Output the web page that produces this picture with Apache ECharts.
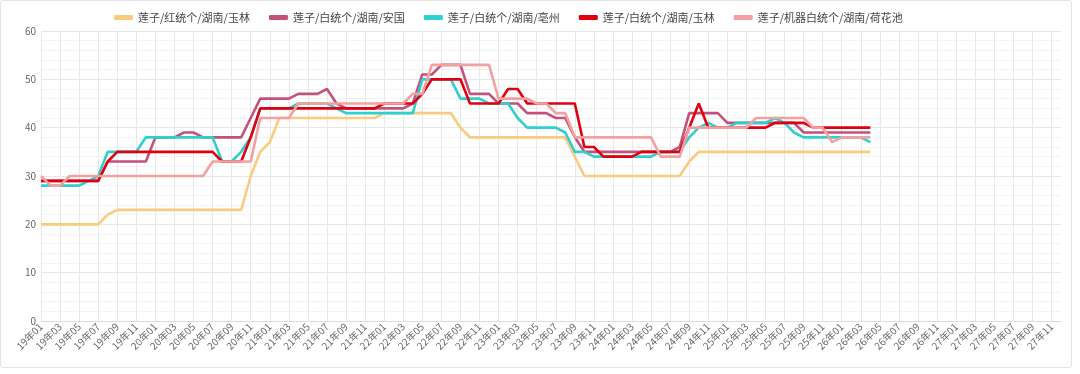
<!DOCTYPE html>
<html>
<head>
<meta charset="utf-8">
<script src="https://cdn.jsdelivr.net/npm/echarts@6/dist/echarts.min.js"></script>
<style>
html,body{margin:0;padding:0;background:#fff;}
#frame{position:absolute;left:0;top:0;width:1072px;height:368px;border:1px solid #e3e3e3;border-radius:3px;box-sizing:border-box;}
#chart{position:absolute;left:0;top:0;width:1080px;height:374px;}
</style>
</head>
<body>
<div id="frame"></div>
<div id="chart"></div>
<script>
// Tick labels: months 19年01 .. 27年12
const years = ['19','20','21','22','23','24','25','26','27'];
const months = ['01','02','03','04','05','06','07','08','09','10','11','12'];
const categories = [];
years.forEach(y => months.forEach(m => categories.push(y + '年' + m)));

const seriesNames = ['莲子/红统个/湖南/玉林','莲子/白统个/湖南/安国','莲子/白统个/湖南/亳州','莲子/白统个/湖南/玉林','莲子/机器白统个/湖南/荷花池'];

// 莲子/红统个/湖南/玉林
const hongYulin = [20,20,20,20,20,20,20,22,23,23,23,23,23,23,23,23,23,23,23,23,23,23,30,35,37,
  42,42,42,42,42,42,42,42,42,42,42,43,43,43,43,43,43,43,43,40,
  38,38,38,38,38,38,38,38,38,38,38,34,30,30,30,30,30,30,30,30,30,30,30,33,
  35,35,35,35,35,35,35,35,35,35,35,35,35,35,35,35,35,35,35];
// 莲子/白统个/湖南/安国
const baiAnguo = [29,29,29,29,29,29,29,33,33,33,33,33,38,38,38,39,39,38,38,38,38,38,42,
  46,46,46,46,47,47,47,48,45,44,44,44,44,44,44,44,45,51,51,53,53,53,47,47,47,
  45,45,45,43,43,43,42,42,38,35,35,35,35,35,35,35,35,35,35,36,
  43,43,43,43,41,41,41,41,41,41,41,41,39,39,39,39,39,39,39,39];
// 莲子/白统个/湖南/亳州
const baiBozhou = [28,28,28,28,28,29,30,35,35,35,35,38,38,38,38,38,38,38,38,33,33,35,38,
  44,44,44,44,45,45,45,45,44,43,43,43,43,43,43,43,43,50,50,50,50,46,46,46,45,45,45,42,
  40,40,40,40,39,35,35,34,34,34,34,34,34,34,35,35,35,38,40,41,40,40,
  41,41,41,41,42,41,39,38,38,38,38,38,38,38,37];
// 莲子/白统个/湖南/玉林
const baiYulin = [29,29,29,29,29,29,29,33,35,35,35,35,35,35,35,35,35,35,35,33,33,33,38,
  44,44,44,44,44,44,44,44,44,44,44,44,44,45,45,45,45,47,50,50,50,50,45,45,45,45,48,48,
  45,45,45,45,45,45,36,36,34,34,34,34,35,35,35,35,35,40,45,
  40,40,40,40,40,40,40,41,41,41,41,40,40,40,40,40,40,40];
// 莲子/机器白统个/湖南/荷花池
const jiqiHehuachi = [30,28,28,30,30,30,30,30,30,30,30,30,30,30,30,30,30,30,33,33,33,33,33,
  42,42,42,42,45,45,45,45,45,45,45,45,45,45,45,45,47,47,53,53,53,53,53,53,53,
  46,46,46,46,45,45,43,43,38,38,38,38,38,38,38,38,38,34,34,34,
  40,40,40,40,40,40,40,42,42,42,42,42,42,40,40,37,38,38,38,38];

const colors = ['#f8cb7f','#c4507c','#2ecfcf','#e00010','#f5a0a0'];
const values = [hongYulin, baiAnguo, baiBozhou, baiYulin, jiqiHehuachi];

const chart = echarts.init(document.getElementById('chart'), null, {renderer:'canvas'});
const FONT = '"Noto Sans CJK SC", "Noto Sans", sans-serif';
chart.setOption({
  animation: false,
  color: colors,
  textStyle: {fontFamily: FONT},
  legend: {
    top: 7, left: 109,
    icon: 'roundRect', itemWidth: 19, itemHeight: 5, itemGap: 19,
    textStyle: {color: '#444', fontSize: 11, fontFamily: FONT},
    data: seriesNames
  },
  grid: {left: 41, right: 19, top: 31, bottom: 53, containLabel: false},
  xAxis: {
    type: 'category', data: categories, boundaryGap: false,
    axisLine: {show: true, lineStyle: {color: '#dcdcdc'}},
    axisTick: {show: false},
    axisLabel: {interval: 1, rotate: 45, color: '#666', fontSize: 10, margin: 4, fontFamily: FONT},
    splitLine: {show: true, interval: 1, lineStyle: {color: '#e8e8e8'}}
  },
  yAxis: {
    type: 'value', min: 0, max: 60, interval: 10,
    axisLine: {show: false}, axisTick: {show: false},
    axisLabel: {color: '#666', fontSize: 10, margin: 5, fontFamily: FONT},
    splitLine: {lineStyle: {color: '#e6e6e6'}},
    minorTick: {show: false, splitNumber: 5},
    minorSplitLine: {show: true, lineStyle: {color: '#f3f3f3'}}
  },
  series: seriesNames.map((n, k) => ({
    name: n, type: 'line', data: values[k], showSymbol: false, symbol: 'none',
    lineStyle: {width: 2.6, color: colors[k]}, itemStyle: {color: colors[k]}
  }))
});
</script>
</body>
</html>
